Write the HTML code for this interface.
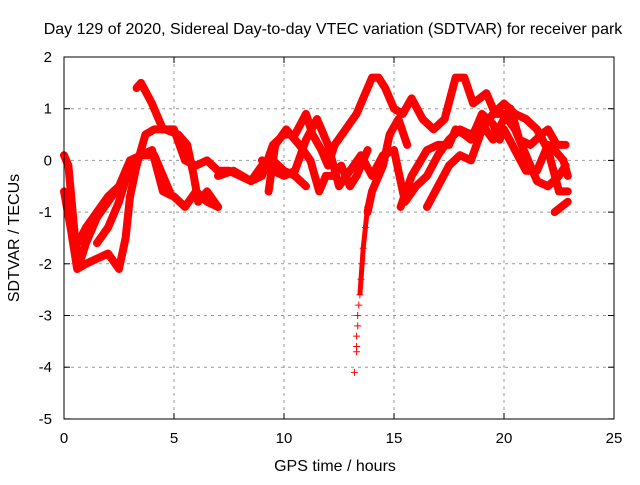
<!DOCTYPE html>
<html><head><meta charset="utf-8"><style>
body{margin:0;background:#fff}
svg{font-family:"Liberation Sans",sans-serif;font-size:15px}
</style></head><body>
<svg id="chart" width="640" height="480">
<rect width="640" height="480" fill="#fff"/>
<text x="333" y="34" text-anchor="middle" style="font-size:16px">Day 129 of 2020, Sidereal Day-to-day VTEC variation (SDTVAR) for receiver park</text>
<text x="335" y="471" text-anchor="middle" style="font-size:16px">GPS time / hours</text>
<text transform="translate(19,238) rotate(-90)" text-anchor="middle" style="font-size:16px">SDTVAR / TECUs</text>
<g id="grid"></g><g id="ticks"></g><g id="marks"></g>
<rect x="64" y="57" width="550" height="362" fill="none" stroke="#000"/>
</svg>
<script>
const xTicks=[0,5,10,15,20,25];
const yTicks=[2,1,0,-1,-2,-3,-4,-5];
const track1=[[3.3,1.4],[3.5,1.5],[4,1.1],[4.5,0.6],[5,0.6],[5.5,0.0],[6,-0.1],[6.5,0.0],[7,-0.2],[7.5,-0.2],[8,-0.3],[8.5,-0.4],[9,-0.1],[9.5,0.0],[10,-0.2],[10.5,-0.3],[11,-0.5]];
const track2=[[0,-0.6],[0.3,-1.3],[0.6,-2.1],[1,-2.0],[1.5,-1.9],[2,-1.8],[2.5,-2.1],[2.8,-1.5],[3,-0.7],[3.3,-0.1],[3.7,0.5],[4.1,0.6],[4.6,0.6],[5.2,0.5],[5.6,0.3],[5.9,-0.3],[6.1,-0.8],[6.5,-0.6],[7,-0.9]];
const track3=[[0,0.1],[0.2,-0.1],[0.5,-1.5],[0.7,-2.0],[1,-1.6],[1.5,-1.1],[2,-0.8],[2.5,-0.5],[3.0,0.0],[3.5,0.1],[4,0.2],[4.5,-0.6],[5,-0.7],[5.5,-0.9],[6,-0.6],[6.5,-0.8],[7,-0.9]];
const track4=[[0.5,-1.7],[1,-1.3],[1.5,-1.0],[2,-0.7],[2.5,-0.5],[3,-0.3]];
const track5=[[1.5,-1.6],[2,-1.3],[2.5,-0.8],[3,-0.1],[3.5,0.1],[4.1,0.1],[4.5,-0.3],[4.8,-0.6]];
const track6=[[7,-0.3],[7.7,-0.2],[8.5,-0.4],[9.0,-0.3],[9.5,0.3],[10,0.5],[10.5,0.5],[11,0.9],[11.3,0.5],[11.7,0.2],[12,-0.1],[12.3,0.3],[12.8,0.6],[13.3,0.9],[13.6,1.2],[14,1.6],[14.3,1.6],[14.6,1.4],[15,1.0],[15.4,0.9],[15.8,1.2],[16.3,0.8],[16.8,0.6],[17.3,0.8],[17.8,1.6],[18.2,1.6],[18.6,1.1],[19.2,1.3],[19.6,0.9],[20,0.9],[20.5,0.6],[21,0.1],[21.5,-0.4],[22,-0.5],[22.5,-0.3],[22.8,-0.1]];
const track7=[[9.3,-0.6],[9.6,0.3],[10.1,0.6],[10.7,0.3],[11.2,0.0],[11.6,-0.6],[11.9,-0.3],[12.2,-0.3],[12.6,-0.1],[13,-0.5],[13.3,-0.3],[13.8,0.2]];
const track8=[[9,0.0],[9.5,-0.2],[10,-0.3],[10.5,-0.2],[11,0.4],[11.5,0.8],[12,0.3],[12.5,-0.5],[13,-0.2],[13.5,0.1],[14,-0.3],[14.5,0.1],[15,0.2],[15.5,-0.8],[16,-0.5],[16.5,-0.3],[17,0.1],[17.5,0.4],[18,0.6],[18.5,0.5],[19,0.7],[19.5,0.4],[20,0.8],[20.3,1.0],[20.7,0.4],[21.2,0.3],[21.7,0.5],[22,0.6],[22.4,0.3],[22.8,0.3]];
const track9=[[13.8,-1.0],[14,-0.6],[14.5,-0.1],[14.8,0.5],[15.2,0.8],[15.6,0.3]];
const track10=[[15.3,-0.9],[15.8,-0.3],[16.5,0.2],[17,0.3],[17.5,0.3],[17.8,0.6],[18.2,0.5],[18.5,0.4],[19,0.9],[19.5,0.7],[19.8,0.4],[20,0.6],[20.5,0.2],[21,-0.2],[21.5,-0.2],[22,0.3],[22.3,0.2],[22.7,0.0],[22.9,-0.3]];
const track11=[[16.5,-0.9],[17,-0.5],[17.5,-0.1],[18,0.1],[18.5,0.0],[19,0.6],[19.5,0.9],[20,1.1],[20.5,0.9],[21,0.8],[21.5,0.6],[22,0.2],[22.5,-0.6],[22.9,-0.6]];
const track12=[[22.3,-1.0],[22.9,-0.8]];
const dipTrack=[[13.8,-0.9],[13.7,-1.3],[13.6,-1.7],[13.55,-2.0],[13.5,-2.3],[13.45,-2.6],[13.4,-2.8],[13.35,-3.0],[13.35,-3.2],[13.3,-3.4],[13.3,-3.6],[13.3,-3.7],[13.2,-4.1]];
const tracks=[track1,track2,track3,track4,track5,track6,track7,track8,track9,track10,track11,track12];
const NS="http://www.w3.org/2000/svg";
function xs(t){return 64+t*22;}
function ys(v){return 160.4-v*51.7;}
const grid=document.getElementById('grid'),ticks=document.getElementById('ticks'),marks=document.getElementById('marks');
function mk(tag,attrs,parent){const e=document.createElementNS(NS,tag);for(const k in attrs)e.setAttribute(k,attrs[k]);parent.appendChild(e);return e;}
xTicks.forEach(t=>{
  const x=xs(t);
  if(t>0&&t<25){const g=mk('line',{x1:x,y1:57,x2:x,y2:419,stroke:'#999','stroke-dasharray':'3,4'},grid);
  
  }
  mk('line',{x1:x,y1:419,x2:x,y2:413,stroke:'#000'},ticks);
  mk('line',{x1:x,y1:57,x2:x,y2:63,stroke:'#000'},ticks);
  const l=mk('text',{x:x,y:443,'text-anchor':'middle'},ticks);l.textContent=t;
  
  
});
yTicks.forEach(v=>{
  const y=ys(v);
  if(v<2&&v>-5){const g=mk('line',{x1:64,y1:y,x2:614,y2:y,stroke:'#999','stroke-dasharray':'3,4'},grid);
  
  }
  mk('line',{x1:64,y1:y,x2:70,y2:y,stroke:'#000'},ticks);
  mk('line',{x1:614,y1:y,x2:608,y2:y,stroke:'#000'},ticks);
  const l=mk('text',{x:52,y:y+5,'text-anchor':'end'},ticks);l.textContent=v;
  
  
});
function cross(t,v,parent){
  const x=xs(t),y=ys(v);
  mk('path',{d:`M${x-3.5},${y}H${x+3.5}M${x},${y-3.5}V${y+3.5}`,stroke:'#f00','stroke-width':1},parent);
}
tracks.forEach((tr,i)=>{
  const g=mk('g',{},marks);
  
  
  mk('polyline',{points:tr.map(p=>xs(p[0])+','+ys(p[1])).join(' '),fill:'none',stroke:'#f00','stroke-width':8,'stroke-linejoin':'round','stroke-linecap':'round'},g);
  tr.forEach(p=>cross(p[0],p[1],g));
});
const dg=mk('g',{},marks);


mk('polyline',{points:dipTrack.slice(0,6).map(p=>xs(p[0])+','+ys(p[1])).join(' '),fill:'none',stroke:'#f00','stroke-width':5},dg);
dipTrack.forEach(p=>cross(p[0],p[1],dg));
</script>
</body></html>
